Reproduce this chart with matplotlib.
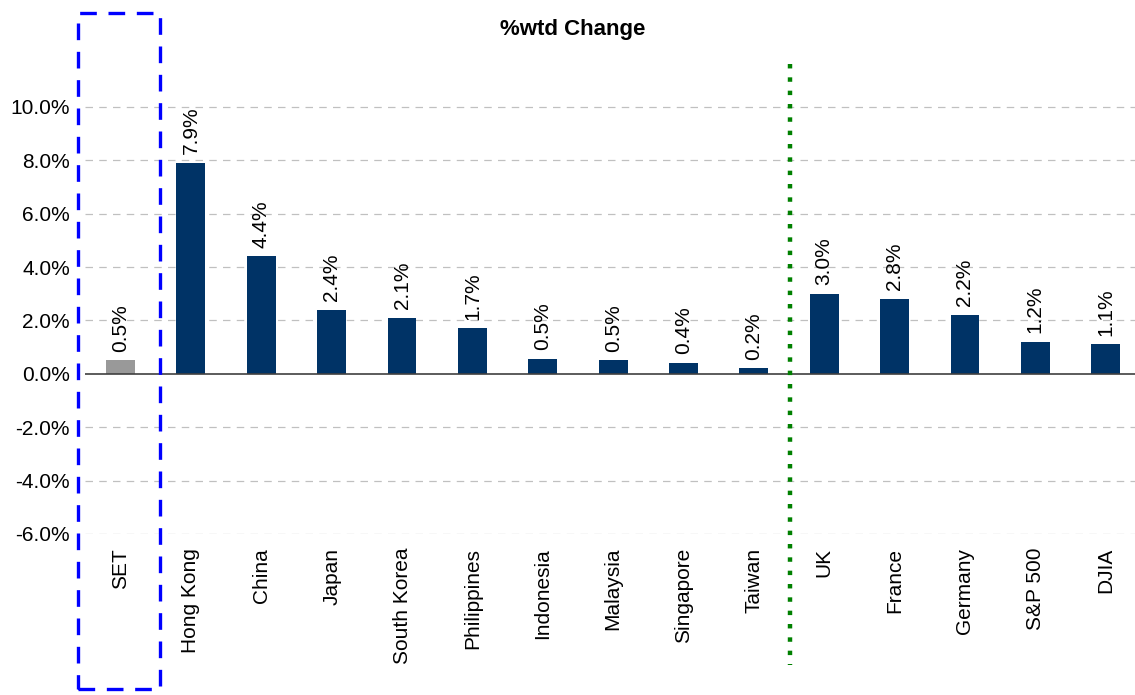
import numpy as np
import matplotlib.pyplot as plt
from matplotlib.patches import Rectangle

plt.rcParams['font.family'] = ['Liberation Sans', 'DejaVu Sans']

# data
markets = ['SET', 'Hong Kong', 'China', 'Japan', 'South Korea', 'Philippines',
           'Indonesia', 'Malaysia', 'Singapore', 'Taiwan', 'UK', 'France',
           'Germany', 'S&P 500', 'DJIA']
wtd_change = [0.5, 7.9, 4.4, 2.4, 2.1, 1.7, 0.55, 0.5, 0.4, 0.2, 3.0, 2.8, 2.2, 1.2, 1.1]
value_labels = ['0.5%', '7.9%', '4.4%', '2.4%', '2.1%', '1.7%', '0.5%', '0.5%',
                '0.4%', '0.2%', '3.0%', '2.8%', '2.2%', '1.2%', '1.1%']
yticks = [-6, -4, -2, 0, 2, 4, 6, 8, 10]

navy = '#003366'
grey = '#999999'
fs = 15

fig = plt.figure(figsize=(11.35, 6.95), dpi=100)
ax = fig.add_axes([0.0752, 0.2317, 0.930, 0.6913])

x = np.arange(len(markets))
colors = [grey] + [navy] * (len(markets) - 1)
ax.bar(x, wtd_change, width=0.41, color=colors, zorder=3)

for xi, v, lab in zip(x, wtd_change, value_labels):
    ax.text(xi, v + 0.33, lab, rotation=90, ha='center', va='bottom', fontsize=fs)

ax.set_xlim(-0.5, len(markets) - 0.5)
ax.set_ylim(-6, 12)
ax.set_yticks(yticks)
ax.set_yticklabels(['%.1f%%' % t for t in yticks], fontsize=fs)
ax.set_xticks(x)
ax.set_xticklabels(markets, rotation=90, va='top', fontsize=fs)
ax.tick_params(axis='y', length=0, pad=11)
ax.tick_params(axis='x', length=0, pad=10)

for t in yticks:
    if t != 0:
        ax.axhline(t, color='#c0c0c0', lw=0.9, ls=(0, (6, 5)), zorder=1)
ax.axhline(0, color='#404040', lw=1.2, zorder=4)

for s in ax.spines.values():
    s.set_visible(False)

# separator between Asia and the West
sep = markets.index('Taiwan') + 0.52
ax.plot([sep, sep], [11.6, -10.9], color='#008000', lw=3.2, ls=(0, (1, 2)),
        clip_on=False, zorder=5)

# highlight box around SET
ax.add_patch(Rectangle((-0.6, -11.8), 1.16, 25.3, fill=False, edgecolor='#0000ff',
                       lw=2.4, ls=(0, (5, 3.5)), clip_on=False, zorder=6))

fig.text(0.505, 0.957, '%wtd Change', ha='center', va='center', fontsize=16,
         fontweight='bold')

fig.savefig('out.png', dpi=100)
